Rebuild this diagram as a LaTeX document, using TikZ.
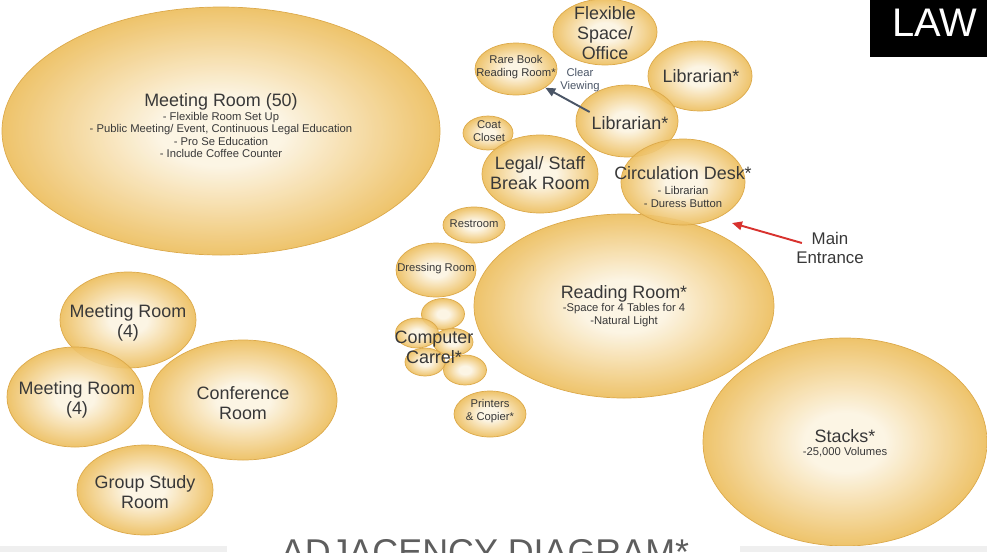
\documentclass[tikz,border=0pt]{standalone}
\usepackage{fontspec}
\setmainfont{Liberation Sans}
\usetikzlibrary{arrows.meta, shapes.geometric}
\definecolor{bubbleIn}{HTML}{FCF4E2}
\definecolor{bubbleOut}{HTML}{EDBE5E}
\definecolor{bubbleEdge}{HTML}{DCA94A}
\definecolor{labelGray}{HTML}{383838}
\definecolor{viewLine}{HTML}{4A5566}
\definecolor{entryRed}{HTML}{D8322E}
\definecolor{titleGray}{HTML}{5E5E5E}
\definecolor{bandGray}{HTML}{EFEFEF}
\pgfdeclareradialshading{bubble}{\pgfpoint{0bp}{0bp}}{color(0bp)=(bubbleIn); color(7bp)=(bubbleIn); color(25bp)=(bubbleOut); color(50bp)=(bubbleOut)}
\newcommand\roomfont{\fontsize{10.2}{11.3}\selectfont}
\newcommand\notefont{\fontsize{6.4}{7.1}\selectfont}
\newcommand\entryfont{\fontsize{9.6}{11.3}\selectfont}

\begin{document}
\begin{tikzpicture}[
  x=0.02cm, y=-0.02cm,
  bubble/.style={ellipse, draw=bubbleEdge, line width=0.4pt, shade, shading=bubble,
                 fill opacity=0.92, inner sep=0pt},
  bsize/.style 2 args={minimum width=#1*0.02cm, minimum height=#2*0.02cm},
  room/.style={font=\roomfont, text=labelGray, align=center, inner sep=0pt},
  note/.style={font=\notefont, text=labelGray, align=center, inner sep=0pt},
  view/.style={-{Triangle[length=2mm, width=1.7mm]}, line width=1.1pt, draw=viewLine},
  entry/.style={-{Triangle[length=2mm, width=1.7mm]}, line width=1.1pt, draw=entryRed}
]
\useasboundingbox (0,0) rectangle (987,552);
\clip (0,0) rectangle (987,552);

% bubbles
\node[bubble, bsize={438}{248}] (mr50) at (221,131) {};
\node[bubble, bsize={104}{66}] (flex) at (605,32) {};
\node[bubble, bsize={82}{52}] (rare) at (516,69) {};
\node[bubble, bsize={104}{70}] (lib1) at (700,76) {};
\node[bubble, bsize={102}{72}] (lib2) at (627,121) {};
\node[bubble, bsize={50}{34}] (coat) at (488,133) {};
\node[bubble, bsize={116}{78}] (legal) at (540,174) {};
\node[bubble, bsize={300}{184}] (reading) at (624,306) {};
\node[bubble, bsize={124}{86}] (circ) at (683,182) {};
\node[bubble, bsize={62}{36}] (rest) at (474,225) {};
\node[bubble, bsize={80}{54}] (dress) at (436,270) {};
\foreach \cx/\cy/\w/\h [count=\i] in {443/314/43/31, 417/333/43/30, 453/342/40/27, 425/362/40/28, 465/370/43/30}
  \node[bubble, bsize={\w}{\h}] (car\i) at (\cx,\cy) {};
\node[bubble, bsize={72}{46}] (print) at (490,414) {};
\node[bubble, bsize={284}{208}] (stacks) at (845,442) {};
\node[bubble, bsize={136}{96}] (mtgA) at (128,320) {};
\node[bubble, bsize={136}{100}] (mtgB) at (75,397) {};
\node[bubble, bsize={188}{120}] (conf) at (243,400) {};
\node[bubble, bsize={136}{90}] (study) at (145,490) {};

% labels
\node[room] (mr50-t) at (221,126) {Meeting Room (50)\\[-3.6pt]\notefont - Flexible Room Set Up\\[-4.2pt]
  \notefont - Public Meeting/ Event, Continuous Legal Education\\[-4.2pt]\notefont - Pro Se Education\\[-4.2pt]
  \notefont - Include Coffee Counter};
\node[room] (flex-t) at (605,33) {Flexible\\Space/\\Office};
\node[note] (rare-t) at (516,67) {Rare Book\\Reading Room*};
\node[note, text=viewLine] (view-t) at (580,80) {Clear\\Viewing};
\node[room] (lib1-t) at (701,76) {Librarian*};
\node[room] (lib2-t) at (630,123) {Librarian*};
\node[note] (coat-t) at (489,131) {Coat\\Closet};
\node[room] (legal-t) at (540,173) {Legal/ Staff\\Break Room};
\node[room] (circ-t) at (683,187) {Circulation Desk*\\[-2.6pt]\notefont - Librarian\\[-4.2pt]\notefont - Duress Button};
\node[note] (rest-t) at (474,224) {Restroom};
\node[note] (dress-t) at (436,269) {Dressing Room};
\node[room] (car-t) at (434,347) {Computer\\Carrel*};
\node[note] (print-t) at (490,411) {Printers\\\& Copier*};
\node[room] (reading-t) at (624,306) {Reading Room*\\[-3.6pt]\notefont -Space for 4 Tables for 4\\[-4.2pt]\notefont -Natural Light};
\node[room] (stacks-t) at (845,443) {Stacks*\\[-3.6pt]\notefont -25,000 Volumes};
\node[room] (mtgA-t) at (128,323) {Meeting Room\\(4)};
\node[room] (mtgB-t) at (77,400) {Meeting Room\\(4)};
\node[room] (conf-t) at (243,403) {Conference\\Room};
\node[room] (study-t) at (145,492) {Group Study\\Room};
\node[room, font=\entryfont] (entr) at (830,248) {Main\\Entrance};

% arrows
\coordinate (door) at (732,223);
\draw[view] ([shift={(14,-9)}]lib2.west) -- (rare.south east);
\draw[entry] ([shift={(6,-5)}]entr.west) -- (door);

% frame pieces
\fill[black] (870,0) rectangle (987,57);
\node[anchor=base, inner sep=0pt, text=white, font=\fontsize{22.7}{24}\selectfont] (law) at (935,36) {LAW};
\fill[bandGray] (0,546) rectangle (227,552);
\fill[bandGray] (740,546) rectangle (987,552);
\node[anchor=base, inner sep=0pt, text=titleGray, font=\fontsize{20.4}{22}\selectfont] (title) at (485,564) {ADJACENCY DIAGRAM*};
\end{tikzpicture}
\end{document}
